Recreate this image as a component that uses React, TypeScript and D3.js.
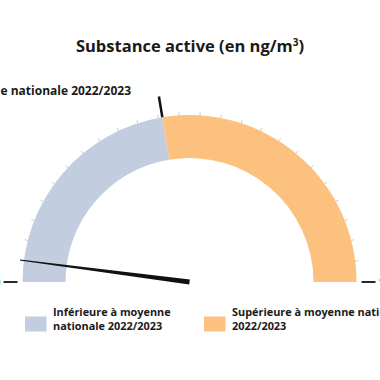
import React from "react";
import * as d3 from "d3";

const title = "Substance active (en ng/m";
const titleSup = "3";
const titleEnd = ")";
const scaleMin = 0;
const scaleMax = 1;
const tickCount = 25;
const nationalAverage = 0.448;
const measuredValue = 0.041;
const minLabel = "0";
const maxLabel = "1";
const averageLabel = "Moyenne nationale 2022/2023";
const bands = [
  { key: "below", from: scaleMin, to: nationalAverage, color: "#c3cde0" },
  { key: "above", from: nationalAverage, to: scaleMax, color: "#fdc17f" },
];
const legendItems = [
  { lines: ["Inférieure à moyenne", "nationale 2022/2023"], color: "#c3cde0" },
  { lines: ["Supérieure à moyenne nationale", "2022/2023"], color: "#fdc17f" },
];

export default function App() {
  const W = 380, H = 380;
  const cx = 189.5, cy = 282;
  const rOuter = 167, rInner = 124;
  const font = "'Open Sans', sans-serif";
  const angle = d3.scaleLinear().domain([scaleMin, scaleMax]).range([-Math.PI / 2, Math.PI / 2]);
  const pt = (a: number, r: number) => [cx + r * Math.sin(a), cy - r * Math.cos(a)];
  const arc = d3.arc<any>().innerRadius(rInner).outerRadius(rOuter);
  const ticks = d3.range(1, tickCount).map((i) => scaleMin + ((scaleMax - scaleMin) * i) / tickCount);

  const na = angle(measuredValue);
  const tip = pt(na, 171);
  const perp = na - Math.PI / 2;
  const bw = 2.6, tw = 0.5;
  const b1 = [cx + bw * Math.sin(perp), cy - bw * Math.cos(perp)];
  const b2 = [cx - bw * Math.sin(perp), cy + bw * Math.cos(perp)];
  const t1 = [tip[0] + tw * Math.sin(perp), tip[1] - tw * Math.cos(perp)];
  const t2 = [tip[0] - tw * Math.sin(perp), tip[1] + tw * Math.cos(perp)];
  const needle = d3.line()([b1, t1, t2, b2] as any) + "Z";

  const aa = angle(nationalAverage);
  const m1 = pt(aa, rOuter), m2 = pt(aa, 188);

  return (
    <svg width={W} height={H} style={{ position: "absolute", left: 0, top: 0, background: "#fff" }}>
      <text x={190} y={52} textAnchor="middle" fontFamily={font} fontWeight={700} fontSize={16.5} fill="#1a1a1a">
        {title}
        <tspan fontSize={10} dy={-6}>{titleSup}</tspan>
        <tspan dy={6}>{titleEnd}</tspan>
      </text>
      {bands.map((b) => (
        <path key={b.key} transform={`translate(${cx},${cy})`} d={arc({ startAngle: angle(b.from), endAngle: angle(b.to) }) as string} fill={b.color} />
      ))}
      {ticks.map((t, i) => {
        const a = angle(t);
        const p1 = pt(a, rOuter), p2 = pt(a, rOuter + 3);
        return <line key={i} x1={p1[0]} y1={p1[1]} x2={p2[0]} y2={p2[1]} stroke="#b8b8b8" strokeWidth={0.8} />;
      })}
      <line x1={m1[0]} y1={m1[1]} x2={m2[0]} y2={m2[1]} stroke="#111" strokeWidth={2.5} />
      <text x={131} y={94.5} textAnchor="end" fontFamily={font} fontWeight={700} fontSize={12} fill="#1a1a1a">{averageLabel}</text>
      {[angle(scaleMin), angle(scaleMax)].map((a, i) => {
        const p1 = pt(a, 172), p2 = pt(a, 186);
        const p3 = pt(a, 189);
        return (
          <g key={i}>
            <line x1={p1[0]} y1={p1[1]} x2={p2[0]} y2={p2[1]} stroke="#111" strokeWidth={1.8} />
            <text x={p3[0]} y={p3[1] + 4} textAnchor={i === 0 ? "end" : "start"} fontFamily={font} fontWeight={700} fontSize={11.3} fill="#1a1a1a">
              {i === 0 ? minLabel : maxLabel}
            </text>
          </g>
        );
      })}
      <path d={needle} fill="#111" />
      {legendItems.map((l, i) => {
        const x0 = i === 0 ? 25 : 204;
        return (
          <g key={i}>
            <rect x={x0} y={316.5} width={21.5} height={15} fill={l.color} />
            {l.lines.map((s, j) => (
              <text key={j} x={x0 + 28} y={315.5 + j * 14.5} fontFamily={font} fontWeight={700} fontSize={10.9} fill="#1a1a1a">{s}</text>
            ))}
          </g>
        );
      })}
    </svg>
  );
}
